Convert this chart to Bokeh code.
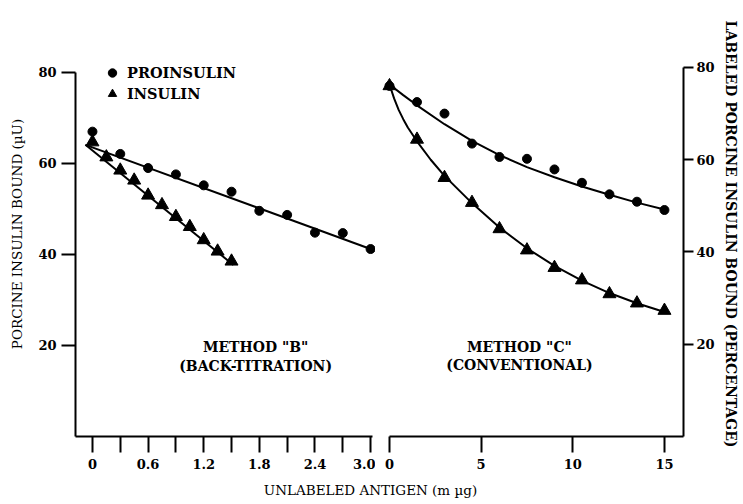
import math
from bokeh.plotting import figure
from bokeh.models import Range1d, FixedTicker, Legend, LegendItem, Label
from bokeh.layouts import row, column
from bokeh.embed import file_html
from bokeh.resources import INLINE
from bokeh.core.validation import silence
from bokeh.core.validation.warnings import MISSING_RENDERERS

silence(MISSING_RENDERERS, True)

SERIF = "DejaVu Serif"

# ---------------- data ----------------
# Method "B" (back-titration), left panel, porcine insulin bound (uU)
left_x_pro = [0, 0.3, 0.6, 0.9, 1.2, 1.5, 1.8, 2.1, 2.4, 2.7, 3.0]
left_y_pro = [67.0, 62.1, 59.0, 57.6, 55.2, 53.8, 49.6, 48.7, 44.8, 44.7, 41.2]
left_x_ins = [0, 0.15, 0.3, 0.45, 0.6, 0.75, 0.9, 1.05, 1.2, 1.35, 1.5]
left_y_ins = [64.7, 61.4, 58.5, 56.3, 53.0, 50.9, 48.3, 46.1, 43.2, 40.7, 38.5]
# fitted straight lines
left_fit_pro_x = [-0.076, 3.0]
left_fit_pro_y = [64.1, 41.2]
left_fit_ins_x = [-0.076, 1.52]
left_fit_ins_y = [64.1, 37.7]

# Method "C" (conventional), right panel, labeled insulin bound (%)
right_x = [0, 1.5, 3, 4.5, 6, 7.5, 9, 10.5, 12, 13.5, 15]
right_y_pro = [76.0, 72.5, 70.0, 63.5, 60.6, 60.2, 57.9, 55.0, 52.5, 50.9, 49.1]
right_y_ins = [76.0, 64.4, 56.1, 50.7, 45.0, 40.4, 36.6, 33.9, 30.9, 28.9, 27.3]
# drawn smooth curves
right_curve_pro_x = [0, 0.75, 1.5, 3, 4.5, 6, 7.5, 9, 10.5, 12, 13.5, 15]
right_curve_pro_y = [76.3, 74.0, 71.8, 67.7, 64.1, 61.0, 58.4, 56.2, 54.2, 52.4, 50.7, 49.2]
right_curve_ins_x = [0, 0.25, 0.5, 0.75, 1.0, 1.5, 2.25, 3, 4.5, 6, 7.5, 9, 10.5, 12, 13.5, 15]
right_curve_ins_y = [76.3, 73.3, 70.8, 68.8, 67.0, 64.0, 60.0, 56.5, 50.6, 45.3, 40.8, 37.0, 33.8, 31.1, 28.9, 27.0]

# ticks
left_tick_vals = [0, 0.6, 1.2, 1.8, 2.4, 3.0]
left_tick_labels = ["0", "0.6", "1.2", "1.8", "2.4", "3.0"]
left_minor_vals = [0.3, 0.9, 1.5, 2.1, 2.7]
y_tick_vals = [20, 40, 60, 80]
right_tick_vals = [0, 5, 10, 15]

series_names = ["PROINSULIN", "INSULIN"]
method_b = ['METHOD "B"', "(BACK-TITRATION)"]
method_c = ['METHOD "C"', "(CONVENTIONAL)"]
left_y_title = "PORCINE INSULIN BOUND (\u00b5U)"
right_y_title = "LABELED PORCINE INSULIN BOUND (PERCENTAGE)"
x_title = "UNLABELED ANTIGEN (m \u00b5g)"


def style_axis(ax, tick_out, standoff):
    ax.axis_line_width = 2
    ax.axis_line_color = "black"
    ax.major_tick_line_width = 2
    ax.major_tick_line_color = "black"
    ax.major_tick_out = tick_out
    ax.major_tick_in = 0
    ax.minor_tick_line_width = 2
    ax.minor_tick_line_color = "black"
    ax.minor_tick_out = tick_out
    ax.minor_tick_in = 0
    ax.major_label_standoff = standoff
    ax.major_label_text_font = SERIF
    ax.major_label_text_font_style = "bold"
    ax.major_label_text_font_size = "13px"
    ax.major_label_text_color = "black"
    ax.axis_label_text_font = SERIF
    ax.axis_label_text_font_style = "normal"
    ax.axis_label_text_font_size = "13.5px"
    ax.axis_label_text_color = "black"


def base(p):
    p.grid.visible = False
    p.outline_line_color = None
    p.background_fill_color = "white"
    p.border_fill_color = "white"


TOP, FRAME_H, BOTTOM = 31, 405, 42

# ---------------- left panel ----------------
p1 = figure(output_backend="svg", toolbar_location=None,
            x_range=Range1d(-0.183, 3.053), y_range=Range1d(0, 89.01),
            frame_width=300, frame_height=FRAME_H,
            min_border_left=75, min_border_right=0,
            min_border_top=TOP, min_border_bottom=BOTTOM)
base(p1)

p1.line(left_fit_pro_x, left_fit_pro_y, line_width=2, line_color="black")
p1.line(left_fit_ins_x, left_fit_ins_y, line_width=2, line_color="black")
r_pro = p1.scatter(left_x_pro, left_y_pro, marker="circle", size=9,
                   fill_color="black", line_color="black")
r_ins = p1.scatter(left_x_ins, left_y_ins, marker="triangle", size=13,
                   fill_color="black", line_color="black")

p1.xaxis.ticker = FixedTicker(ticks=left_tick_vals, minor_ticks=left_minor_vals)
p1.xaxis.major_label_overrides = dict(zip(left_tick_vals, left_tick_labels))
p1.xaxis.bounds = (-0.183, 3.02)
style_axis(p1.xaxis[0], 16, 6)
p1.yaxis.ticker = FixedTicker(ticks=y_tick_vals, minor_ticks=[])
p1.yaxis.bounds = (0, 80)
style_axis(p1.yaxis[0], 14, 5)
p1.yaxis.axis_label = left_y_title
p1.yaxis.axis_label_standoff = 10

legend = Legend(items=[LegendItem(label=series_names[0], renderers=[r_pro]),
                       LegendItem(label=series_names[1], renderers=[r_ins])],
                location=(26, 332), orientation="vertical",
                glyph_width=22, glyph_height=21, spacing=0, padding=0, margin=0,
                label_standoff=4, label_height=21,
                label_text_font=SERIF, label_text_font_style="bold",
                label_text_font_size="14.5px", label_text_color="black",
                border_line_color=None, background_fill_alpha=0)
p1.add_layout(legend)

for txt, yy in zip(method_b, [19.6, 15.4]):
    p1.add_layout(Label(x=1.76, y=yy, text=txt, text_align="center",
                        text_baseline="middle", text_font=SERIF,
                        text_font_style="bold", text_font_size="14px",
                        text_color="black"))

# ---------------- right panel ----------------
p2 = figure(output_backend="svg", toolbar_location=None,
            x_range=Range1d(-0.491, 16.04), y_range=Range1d(0, 87.80),
            frame_width=303, frame_height=FRAME_H, y_axis_location="right",
            min_border_left=5, min_border_right=58,
            min_border_top=TOP, min_border_bottom=BOTTOM)
base(p2)

p2.line(right_curve_pro_x, right_curve_pro_y, line_width=2, line_color="black")
p2.line(right_curve_ins_x, right_curve_ins_y, line_width=2, line_color="black")
p2.scatter(right_x, right_y_pro, marker="circle", size=9,
           fill_color="black", line_color="black")
p2.scatter(right_x, right_y_ins, marker="triangle", size=13,
           fill_color="black", line_color="black")

p2.xaxis.ticker = FixedTicker(ticks=right_tick_vals, minor_ticks=[])
p2.xaxis.bounds = (0, 16.04)
style_axis(p2.xaxis[0], 16, 6)
p2.yaxis.ticker = FixedTicker(ticks=y_tick_vals, minor_ticks=[])
p2.yaxis.bounds = (0, 80)
style_axis(p2.yaxis[0], 10, 3)
p2.yaxis.axis_label = right_y_title
p2.yaxis.axis_label_standoff = 5
p2.yaxis.axis_label_text_font_style = "bold"
p2.yaxis.axis_label_text_font_size = "14px"

for txt, yy in zip(method_c, [19.3, 15.6]):
    p2.add_layout(Label(x=7.09, y=yy, text=txt, text_align="center",
                        text_baseline="middle", text_font=SERIF,
                        text_font_style="bold", text_font_size="14px",
                        text_color="black"))

# ---------------- shared x-axis title ----------------
p3 = figure(output_backend="svg", toolbar_location=None, width=741, height=22,
            x_range=Range1d(0, 741), y_range=Range1d(0, 22),
            x_axis_type=None, y_axis_type=None, min_border=0)
base(p3)
p3.add_layout(Label(x=370, y=11, text=x_title, text_align="center",
                    text_baseline="middle", text_font=SERIF,
                    text_font_size="13.5px", text_color="black"))

layout = column(row(p1, p2), p3)
open("out.html", "w").write(file_html(layout, INLINE))
